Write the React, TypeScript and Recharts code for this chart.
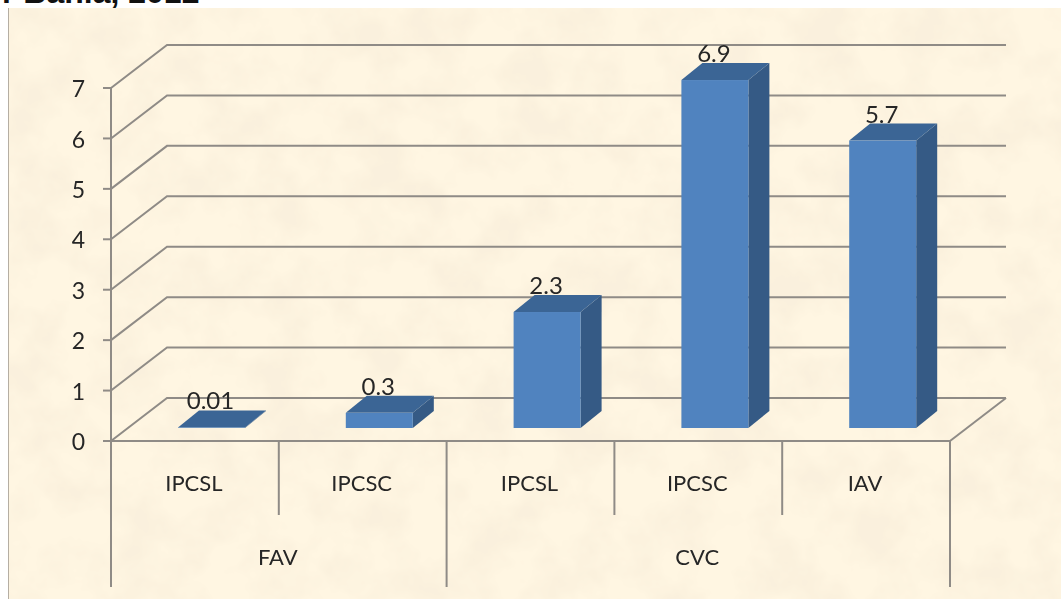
import React from 'react';
import { BarChart, Bar, XAxis, YAxis, CartesianGrid, LabelList } from 'recharts';

const categories = ['IPCSL', 'IPCSC', 'IPCSL', 'IPCSC', 'IAV'];
const values = [0.01, 0.3, 2.3, 6.9, 5.7];
const yTicks = [0, 1, 2, 3, 4, 5, 6, 7];
const groupNames = ['FAV', 'CVC'];
const groupSizes = [2, 3];

// slot is only there so the group axis has a numeric key to run on
const data = categories.map((name, i) => ({ name, value: values[i], slot: i + 0.5 }));

// group axis runs over category positions, so separators and labels come from the group sizes
const groupEdges = groupSizes.reduce((acc, n) => [...acc, acc[acc.length - 1] + n], [0]);
const groupCenters = groupSizes.map((n, i) => groupEdges[i] + n / 2);
const groupTicks = [...groupEdges, ...groupCenters].sort((a, b) => a - b);

const FONT = 'Lato, sans-serif';
const TEXT = '#262626';
const LINE = '#8f8b86';
const FRONT = '#5083bf';
const TOP = '#3b6595';
const SIDE = '#355a85';

const FLOOR_Y = 441;
// how far the back wall sits from the front plane
const WALL_X = 56;
const WALL_Y = 43;
// bars stand part way into the floor
const BAR_X = 17;
const BAR_Y = 13;
const DEPTH_X = 21;
const DEPTH_Y = 17;

function GridLine(props: any) {
  const { x1, x2, y1 } = props;
  return (
    <g key={`grid-${y1}`}>
      <polyline
        points={`${x1},${y1} ${x1 + WALL_X},${y1 - WALL_Y} ${x2 + WALL_X},${y1 - WALL_Y}`}
        fill="none"
        stroke={LINE}
        strokeWidth={2}
      />
      {y1 >= FLOOR_Y ? (
        <line x1={x2} y1={y1} x2={x2 + WALL_X} y2={y1 - WALL_Y} stroke={LINE} strokeWidth={2} />
      ) : null}
    </g>
  );
}

function Bar3D(props: any) {
  const { x, y, width, height } = props;
  const left = x + BAR_X;
  const right = left + width;
  const top = y - BAR_Y;
  const bottom = y + height - BAR_Y;
  return (
    <g>
      <polygon
        points={`${right},${top} ${right + DEPTH_X},${top - DEPTH_Y} ${right + DEPTH_X},${bottom - DEPTH_Y} ${right},${bottom}`}
        fill={SIDE}
      />
      <polygon
        points={`${left},${top} ${left + DEPTH_X},${top - DEPTH_Y} ${right + DEPTH_X},${top - DEPTH_Y} ${right},${top}`}
        fill={TOP}
      />
      <rect x={left} y={top} width={width} height={height} fill={FRONT} />
    </g>
  );
}

function BarValue(props: any) {
  const { x, y, width, value } = props;
  return (
    <text x={x + BAR_X + width / 2 - 1} y={y - BAR_Y - 18} textAnchor="middle" fontFamily={FONT} fontSize={24} fill={TEXT}>
      {value}
    </text>
  );
}

function CategoryTick(props: any) {
  const { x, y, payload, index } = props;
  const halfBand = 83.9;
  // the boundary between two groups is drawn long by the group axis
  return (
    <g>
      <text x={x - 1} y={y + 42} textAnchor="middle" fontFamily={FONT} fontSize={22} fill={TEXT}>
        {payload.value}
      </text>
      {!groupEdges.includes(index) ? (
        <line x1={x - halfBand} y1={FLOOR_Y} x2={x - halfBand} y2={515} stroke={LINE} strokeWidth={2} />
      ) : null}
    </g>
  );
}

function GroupTick(props: any) {
  const { x, payload } = props;
  if (groupEdges.includes(payload.value)) {
    return <line x1={x} y1={FLOOR_Y} x2={x} y2={587} stroke={LINE} strokeWidth={2} />;
  }
  const name = groupNames[groupCenters.indexOf(payload.value)];
  return (
    <text x={x - 1} y={565} textAnchor="middle" fontFamily={FONT} fontSize={22} fill={TEXT}>
      {name}
    </text>
  );
}

export default function App() {
  return (
    <div style={{ position: 'absolute', left: 0, top: 0, width: 1061, height: 599, overflow: 'hidden', background: '#fff' }}>
      <div
        style={{
          position: 'absolute',
          left: 2,
          top: -24,
          fontFamily: '"Liberation Sans", sans-serif',
          fontWeight: 700,
          fontSize: 32,
          lineHeight: '32px',
          whiteSpace: 'nowrap',
          color: '#111',
        }}
      >
        r Bahia, 2012
      </div>
      <svg width={1061} height={591} style={{ position: 'absolute', left: 8, top: 8 }}>
        <defs>
          <filter id="parchment" x="0" y="0" width="100%" height="100%">
            <feTurbulence type="fractalNoise" baseFrequency="0.02" numOctaves={4} seed={7} />
            <feColorMatrix
              type="matrix"
              values="0 0 0 0 0.96  0 0 0 0 0.875  0 0 0 0 0.72  3 0 0 0 -1.15"
            />
          </filter>
        </defs>
        <rect width={1061} height={591} fill="#fff6e2" />
        <rect width={1061} height={591} filter="url(#parchment)" />
        <line x1={0.5} y1={0} x2={0.5} y2={591} stroke="#b5aea3" />
      </svg>
      <div style={{ position: 'absolute', left: 0, top: 0, filter: 'blur(0.55px)' }}>
        <BarChart
          width={1061}
          height={599}
          data={data}
          barSize={67}
          margin={{ top: 88, right: 111, left: 81, bottom: 12 }}
        >
          <CartesianGrid vertical={false} horizontal={GridLine} />
          <YAxis
            width={30}
            domain={[0, 7]}
            ticks={yTicks}
            interval={0}
            tickSize={8}
            tickMargin={18}
            axisLine={{ stroke: LINE, strokeWidth: 2 }}
            tickLine={{ stroke: LINE, strokeWidth: 2 }}
            tick={{ fontFamily: FONT, fontSize: 23, fill: TEXT, dy: 1 }}
          />
          <XAxis
            dataKey="name"
            height={74}
            interval={0}
            allowDuplicatedCategory
            tickLine={false}
            axisLine={{ stroke: LINE, strokeWidth: 2 }}
            tick={CategoryTick}
          />
          <XAxis
            xAxisId="group"
            dataKey="slot"
            type="number"
            domain={[0, 5]}
            allowDataOverflow
            ticks={groupTicks}
            interval={0}
            height={72}
            tickLine={false}
            axisLine={false}
            tick={GroupTick}
          />
          <Bar dataKey="value" shape={Bar3D} isAnimationActive={false}>
            <LabelList dataKey="value" content={BarValue} />
          </Bar>
        </BarChart>
      </div>
    </div>
  );
}
